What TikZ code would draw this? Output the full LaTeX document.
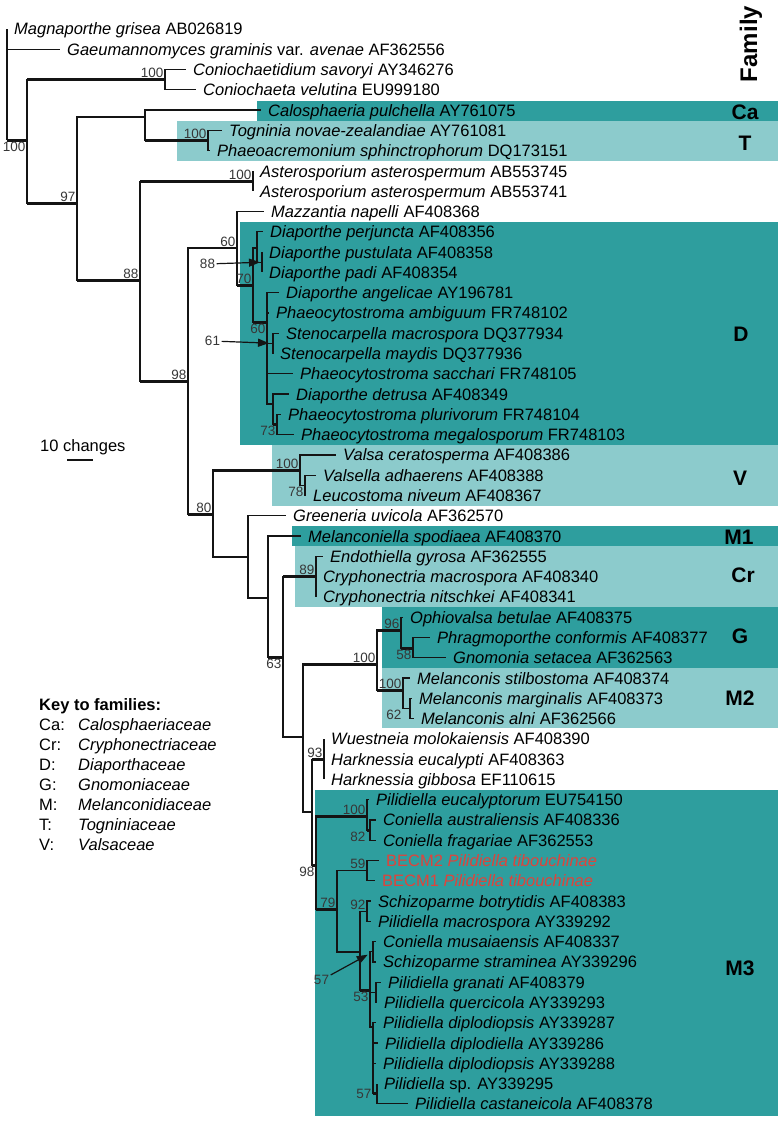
\documentclass[tikz,border=0pt]{standalone}
\usepackage{fontspec}
\setmainfont{Liberation Sans}
\usetikzlibrary{arrows.meta}
\definecolor{famdark}{RGB}{46,158,158}
\definecolor{famlight}{RGB}{140,203,204}
\definecolor{treeink}{RGB}{20,20,20}
\definecolor{bootgray}{RGB}{55,55,55}
\definecolor{isored}{RGB}{222,68,60}
\tikzset{br/.style={treeink, line width=1.2pt},
         bs/.style={treeink, line width=3pt},
         leaf/.style={anchor=west, inner xsep=7pt, inner ysep=0pt, text height=12pt, text depth=0pt, font=\fontsize{16.5}{18}\selectfont},
         keytxt/.style={anchor=west, inner sep=0pt, text height=12pt, text depth=0pt, font=\fontsize{16.5}{18}\selectfont},
         boot/.style={inner sep=1.5pt, font=\fontsize{13.5}{14}\selectfont, text=bootgray},
         fam/.style={font=\fontsize{21}{24}\selectfont\bfseries},
         pointer/.style={treeink, line width=1.2pt, -{Triangle[length=11pt,width=8pt]}}}

\begin{document}
\begin{tikzpicture}[x=1pt,y=-1pt]
   \useasboundingbox (0,0) rectangle (782,1121);
   \fill[famdark]  (257, 101.0) rectangle (778, 121.0);
   \fill[famlight] (177, 121.0) rectangle (778, 161.0);
   \fill[famdark]  (240, 221.7) rectangle (778, 444.7);
   \fill[famlight] (272, 444.7) rectangle (778, 505.5);
   \fill[famdark]  (292, 526.0) rectangle (778, 546.2);
   \fill[famlight] (295, 546.2) rectangle (778, 607.0);
   \fill[famdark]  (382, 607.0) rectangle (778, 668.0);
   \fill[famlight] (382, 668.0) rectangle (778, 727.5);
   \fill[famdark]  (315, 789.5) rectangle (778,1116.0);

   \node[leaf] (l1)  at (  7,  29.0) {\textit{Magnaporthe grisea} AB026819};
   \node[leaf] (l2)  at ( 60,  49.3) {\textit{Gaeumannomyces graminis} var. \textit{avenae} AF362556};
   \node[leaf] (l3)  at (186,  69.6) {\textit{Coniochaetidium savoryi} AY346276};
   \node[leaf] (l4)  at (196,  89.8) {\textit{Coniochaeta velutina} EU999180};
   \node[leaf] (l5)  at (261, 110.1) {\textit{Calosphaeria pulchella} AY761075};
   \node[leaf] (l6)  at (222, 130.4) {\textit{Togninia novae-zealandiae} AY761081};
   \node[leaf] (l7)  at (210, 150.7) {\textit{Phaeoacremonium sphinctrophorum} DQ173151};
   \node[leaf] (l8)  at (253, 171.0) {\textit{Asterosporium asterospermum} AB553745};
   \node[leaf] (l9)  at (253, 191.2) {\textit{Asterosporium asterospermum} AB553741};
   \node[leaf] (l10) at (264, 211.5) {\textit{Mazzantia napelli} AF408368};
   \node[leaf] (l11) at (263, 231.8) {\textit{Diaporthe perjuncta} AF408356};
   \node[leaf] (l12) at (262, 252.1) {\textit{Diaporthe pustulata} AF408358};
   \node[leaf] (l13) at (262, 272.4) {\textit{Diaporthe padi} AF408354};
   \node[leaf] (l14) at (279, 292.6) {\textit{Diaporthe angelicae} AY196781};
   \node[leaf] (l15) at (269, 312.9) {\textit{Phaeocytostroma ambiguum} FR748102};
   \node[leaf] (l16) at (279, 333.2) {\textit{Stenocarpella macrospora} DQ377934};
   \node[leaf] (l17) at (273, 353.5) {\textit{Stenocarpella maydis} DQ377936};
   \node[leaf] (l18) at (293, 373.8) {\textit{Phaeocytostroma sacchari} FR748105};
   \node[leaf] (l19) at (289, 394.0) {\textit{Diaporthe detrusa} AF408349};
   \node[leaf] (l20) at (281, 414.3) {\textit{Phaeocytostroma plurivorum} FR748104};
   \node[leaf] (l21) at (294, 434.6) {\textit{Phaeocytostroma megalosporum} FR748103};
   \node[leaf] (l22) at (336, 454.9) {\textit{Valsa ceratosperma} AF408386};
   \node[leaf] (l23) at (316, 475.2) {\textit{Valsella adhaerens} AF408388};
   \node[leaf] (l24) at (306, 495.4) {\textit{Leucostoma niveum} AF408367};
   \node[leaf] (l25) at (286, 515.7) {\textit{Greeneria uvicola} AF362570};
   \node[leaf] (l26) at (301, 536.0) {\textit{Melanconiella spodiaea} AF408370};
   \node[leaf] (l27) at (323, 556.3) {\textit{Endothiella gyrosa} AF362555};
   \node[leaf] (l28) at (316, 576.6) {\textit{Cryphonectria macrospora} AF408340};
   \node[leaf] (l29) at (316, 596.8) {\textit{Cryphonectria nitschkei} AF408341};
   \node[leaf] (l30) at (403, 617.1) {\textit{Ophiovalsa betulae} AF408375};
   \node[leaf] (l31) at (430, 637.4) {\textit{Phragmoporthe conformis} AF408377};
   \node[leaf] (l32) at (446, 657.7) {\textit{Gnomonia setacea} AF362563};
   \node[leaf] (l33) at (410, 678.0) {\textit{Melanconis stilbostoma} AF408374};
   \node[leaf] (l34) at (412, 698.2) {\textit{Melanconis marginalis} AF408373};
   \node[leaf] (l35) at (414, 718.5) {\textit{Melanconis alni} AF362566};
   \node[leaf] (l36) at (324, 738.8) {\textit{Wuestneia molokaiensis} AF408390};
   \node[leaf] (l37) at (324, 759.1) {\textit{Harknessia eucalypti} AF408363};
   \node[leaf] (l38) at (324, 779.4) {\textit{Harknessia gibbosa} EF110615};
   \node[leaf] (l39) at (369, 799.6) {\textit{Pilidiella eucalyptorum} EU754150};
   \node[leaf] (l40) at (376, 819.9) {\textit{Coniella australiensis} AF408336};
   \node[leaf] (l41) at (376, 840.2) {\textit{Coniella fragariae} AF362553};
   \node[leaf, text=isored] (l42) at (379, 860.5) {BECM2 \textit{Pilidiella tibouchinae}};
   \node[leaf, text=isored] (l43) at (375, 880.8) {BECM1 \textit{Pilidiella tibouchinae}};
   \node[leaf] (l44) at (371, 901.0) {\textit{Schizoparme botrytidis} AF408383};
   \node[leaf] (l45) at (371, 921.3) {\textit{Pilidiella macrospora} AY339292};
   \node[leaf] (l46) at (376, 941.6) {\textit{Coniella musaiaensis} AF408337};
   \node[leaf] (l47) at (376, 961.9) {\textit{Schizoparme straminea} AY339296};
   \node[leaf] (l48) at (381, 982.2) {\textit{Pilidiella granati} AF408379};
   \node[leaf] (l49) at (377,1002.4) {\textit{Pilidiella quercicola} AY339293};
   \node[leaf] (l50) at (376,1022.7) {\textit{Pilidiella diplodiopsis} AY339287};
   \node[leaf] (l51) at (378,1043.0) {\textit{Pilidiella diplodiella} AY339286};
   \node[leaf] (l52) at (376,1063.3) {\textit{Pilidiella diplodiopsis} AY339288};
   \node[leaf] (l53) at (377,1083.6) {\textit{Pilidiella} sp. AY339295};
   \node[leaf] (l54) at (408,1103.8) {\textit{Pilidiella castaneicola} AF408378};

   \coordinate (nRoot) at (  7, 140.0);
   \coordinate (nA)    at ( 27, 140.0);
   \coordinate (nCon)  at (165,  79.7);
   \coordinate (nB)    at ( 77, 203.0);
   \coordinate (nCaT)  at (145, 117.0);
   \coordinate (nT)    at (208, 140.5);
   \coordinate (nC)    at (140, 280.0);
   \coordinate (nAst)  at (253, 181.1);
   \coordinate (nD)    at (188, 381.0);
   \coordinate (nE)    at (237, 248.0);
   \coordinate (nG)    at (253, 285.0);
   \coordinate (nH)    at (257, 248.0);
   \coordinate (nH2)   at (262, 262.2);
   \coordinate (nI)    at (267, 322.0);
   \coordinate (nJ)    at (273, 343.3);
   \coordinate (nK)    at (273, 404.0);
   \coordinate (nL)    at (277, 424.5);
   \coordinate (nF)    at (213, 514.0);
   \coordinate (nV)    at (300, 470.0);
   \coordinate (nN)    at (305, 485.3);
   \coordinate (nM)    at (248, 557.0);
   \coordinate (nO)    at (268, 598.0);
   \coordinate (nP)    at (283, 657.0);
   \coordinate (nCr)   at (316, 576.6);
   \coordinate (nQ)    at (303, 737.0);
   \coordinate (nGM)   at (377, 664.0);
   \coordinate (nGc)   at (401, 630.0);
   \coordinate (nPG)   at (413, 648.0);
   \coordinate (nM2c)  at (403, 690.0);
   \coordinate (nM2b)  at (410, 708.4);
   \coordinate (nR)    at (312, 812.0);
   \coordinate (nHar)  at (324, 759.1);
   \coordinate (nM3)   at (316, 865.0);
   \coordinate (nPe)   at (367, 816.0);
   \coordinate (nCo)   at (370, 830.0);
   \coordinate (n79)   at (337, 909.0);
   \coordinate (nBE)   at (367, 870.6);
   \coordinate (nX)    at (360, 952.0);
   \coordinate (n92)   at (367, 911.2);
   \coordinate (n53)   at (370, 990.0);
   \coordinate (nCS)   at (373, 951.8);
   \coordinate (nGQ)   at (376, 992.3);
   \coordinate (nPd)   at (373,1027.0);
   \coordinate (n57)   at (377,1093.7);

   \foreach \p/\c in {nRoot/l1.west, nRoot/l2.west, nRoot/nA, nA/nCon, nA/nB, nCon/l3.west, nCon/l4.west,
                      nB/nCaT, nB/nC, nCaT/l5.west, nCaT/nT, nT/l6.west, nT/l7.west, nC/nAst, nC/nD,
                      nAst/l8.west, nAst/l9.west, nD/nE, nD/nF, nE/l10.west, nE/nG, nG/nH, nG/nI,
                      nH/l11.west, nH/nH2, nH2/l12.west, nH2/l13.west, nI/l14.west, nI/l15.west, nI/nJ,
                      nI/l18.west, nI/nK, nJ/l16.west, nJ/l17.west, nK/l19.west, nK/nL, nL/l20.west, nL/l21.west,
                      nF/nV, nF/nM, nV/l22.west, nV/nN, nN/l23.west, nN/l24.west, nM/l25.west, nM/nO,
                      nO/l26.west, nO/nP, nP/nCr, nP/nQ, nCr/l27.west, nCr/l28.west, nCr/l29.west,
                      nQ/nGM, nQ/nR, nGM/nGc, nGM/nM2c, nGc/l30.west, nGc/nPG, nPG/l31.west, nPG/l32.west,
                      nM2c/l33.west, nM2c/nM2b, nM2b/l34.west, nM2b/l35.west, nR/nHar, nR/nM3,
                      nHar/l36.west, nHar/l37.west, nHar/l38.west, nM3/nPe, nM3/n79, nPe/l39.west, nPe/nCo,
                      nCo/l40.west, nCo/l41.west, n79/nBE, n79/nX, nBE/l42.west, nBE/l43.west, nX/n92, nX/n53,
                      n92/l44.west, n92/l45.west, n53/nCS, n53/nGQ, n53/nPd, nCS/l46.west, nCS/l47.west,
                      nGQ/l48.west, nGQ/l49.west, nPd/l50.west, nPd/l51.west, nPd/l52.west, nPd/n57,
                      n57/l53.west, n57/l54.west}
     \draw[br] (\p) |- (\c);
   \foreach \p/\c in {nRoot/nA, nA/nCon, nA/nB, nCaT/nT, nB/nC, nC/nAst, nC/nD, nE/nG, nG/nI, nK/nL,
                      nD/nF, nF/nV, nO/nP, nP/nCr, nQ/nGM, nGM/nGc, nGM/nM2c, nGc/nPG, nR/nHar, nR/nM3,
                      nM3/nPe, nPe/nCo, nM3/n79, nX/n53, nPd/n57}
     \draw[bs] (\p |- \c) -- (\c);

   \node[boot, below left] (sA)   at (nA)   {100};
   \node[boot, above left] (sCon) at (nCon) {100};
   \node[boot, above left] (sB)   at (nB)   {97};
   \node[boot, above left] (sT)   at (nT)   {100};
   \node[boot, above left] (sC)   at (nC)   {88};
   \node[boot, above left] (sAst) at (nAst) {100};
   \node[boot, above left] (sD)   at (nD)   {98};
   \node[boot, above left] (sE)   at (nE)   {60};
   \node[boot, above left] (sG)   at (nG)   {70};
   \node[boot, below left] (sI)   at (nI)   {60};
   \node[boot, below left] (sL)   at (nL)   {73};
   \node[boot, above left] (sF)   at (nF)   {80};
   \node[boot, above left] (sV)   at (nV)   {100};
   \node[boot, below left] (sN)   at (nN)   {78};
   \node[boot, below left] (sP)   at (nP)   {63};
   \node[boot, above left] (sCr)  at (nCr)  {89};
   \node[boot, above left] (sGM)  at (nGM)  {100};
   \node[boot, above left] (sGc)  at (nGc)  {96};
   \node[boot, below left] (sPG)  at (nPG)  {58};
   \node[boot, above left] (sM2c) at (nM2c) {100};
   \node[boot, below left] (sM2b) at (nM2c |- nM2b) {62};
   \node[boot, above left] (sHar) at (nHar) {93};
   \node[boot, below left] (sM3)  at (nM3)  {98};
   \node[boot, above left] (sPe)  at (nPe)  {100};
   \node[boot, below left] (sCo)  at (nPe |- nCo) {82};
   \node[boot, above left] (s79)  at (n79)  {79};
   \node[boot, above left] (sBE)  at (nBE)  {59};
   \node[boot, above left] (s92)  at (n92)  {92};
   \node[boot, below left] (s53)  at (n53)  {53};
   \node[boot, left]       (s57)  at (nPd |- n57) {57};

   \node[boot] (a88) at (207.5, 264) {88};
   \node[boot] (a61) at (212.5, 341) {61};
   \node[boot] (a57) at (321.5, 980) {57};
   \draw[pointer, shorten >=2pt] (a88) -- (nH2);
   \draw[pointer, shorten >=4pt] (a61) -- (nJ);
   \draw[pointer, shorten >=6pt] (a57) -- (nCS);

   \node[fam, font=\fontsize{24}{26}\selectfont\bfseries, rotate=90] (hFam) at (751,  44) {Family};
   \node[fam] (fCa) at (745, 112) {Ca};
   \node[fam] (fT)  at (745, 143) {T};
   \node[fam] (fD)  at (741, 334) {D};
   \node[fam] (fV)  at (740, 478) {V};
   \node[fam] (fM1) at (739, 537) {M1};
   \node[fam] (fCr) at (743, 575) {Cr};
   \node[fam] (fG)  at (740, 636) {G};
   \node[fam] (fM2) at (740, 698) {M2};
   \node[fam] (fM3) at (740, 968) {M3};

   \node[keytxt] (scl) at (40, 445) {10 changes};
   \coordinate (sb0) at (67, 460);
   \coordinate (sb1) at (93, 460);
   \draw[br] (sb0) -- (sb1);

   \node[keytxt, font=\fontsize{16.5}{18}\selectfont\bfseries] (key) at (39, 704) {Key to families:};
   \node[keytxt] (k1) at (39, 724.5) {Ca:};  \node[keytxt] (k1n) at (78, 724.5) {\textit{Calosphaeriaceae}};
   \node[keytxt] (k2) at (39, 744.5) {Cr:};  \node[keytxt] (k2n) at (78, 744.5) {\textit{Cryphonectriaceae}};
   \node[keytxt] (k3) at (39, 764.5) {D:};   \node[keytxt] (k3n) at (78, 764.5) {\textit{Diaporthaceae}};
   \node[keytxt] (k4) at (39, 784.5) {G:};   \node[keytxt] (k4n) at (78, 784.5) {\textit{Gnomoniaceae}};
   \node[keytxt] (k5) at (39, 804.5) {M:};   \node[keytxt] (k5n) at (78, 804.5) {\textit{Melanconidiaceae}};
   \node[keytxt] (k6) at (39, 824.5) {T:};   \node[keytxt] (k6n) at (78, 824.5) {\textit{Togniniaceae}};
   \node[keytxt] (k7) at (39, 844.5) {V:};   \node[keytxt] (k7n) at (78, 844.5) {\textit{Valsaceae}};
\end{tikzpicture}
\end{document}
